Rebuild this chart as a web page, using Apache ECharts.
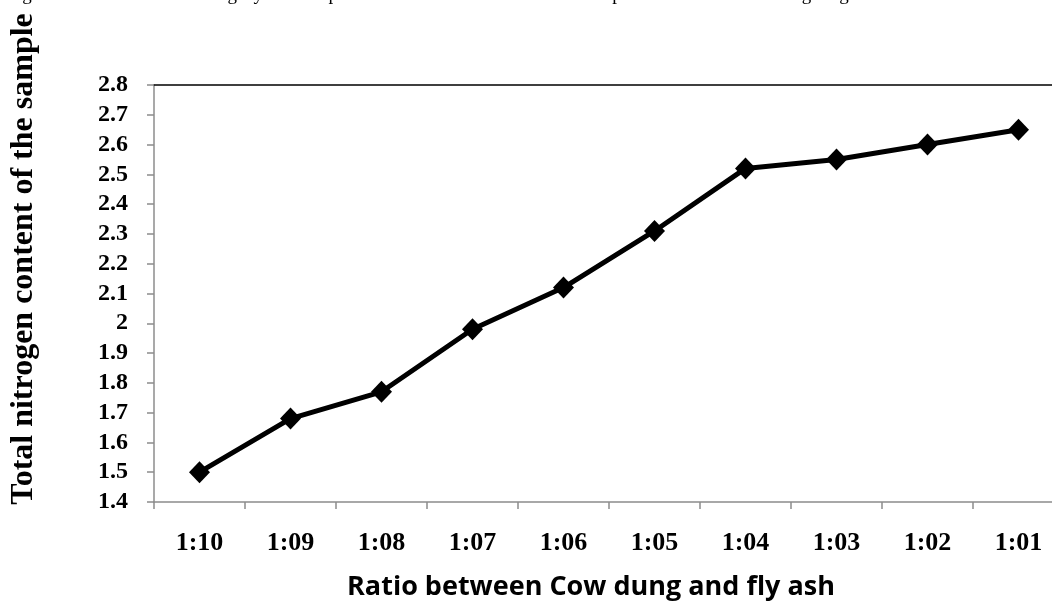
<!DOCTYPE html>
<html>
<head>
<meta charset="utf-8">
<script src="https://cdn.jsdelivr.net/npm/echarts@6/dist/echarts.min.js"></script>
<style>html,body{margin:0;padding:0;background:#fff;}#c{width:1052px;height:601px;}</style>
</head>
<body>
<div id="c"></div>
<script>
var categories = ['1:10','1:09','1:08','1:07','1:06','1:05','1:04','1:03','1:02','1:01'];
var nitrogen = [1.50, 1.68, 1.77, 1.98, 2.12, 2.31, 2.52, 2.55, 2.60, 2.65];
var yMin = 1.4, yMax = 2.8, yStep = 0.1;
var xTitle = 'Ratio between Cow dung and fly ash';
var yTitle = 'Total nitrogen content of the sample';
var topText = 'the total nitrogen content in the cow dung fly ash sample with the increase in the ratio as represented in the following diagram';

var chart = echarts.init(document.getElementById('c'), null, {renderer:'canvas'});
var serif = '"Liberation Serif","Times New Roman",serif';
chart.setOption({
  animation:false,
  backgroundColor:'#fff',
  grid:{left:154, width:910, top:85, height:417, containLabel:false, outerBoundsMode:'none'},
  xAxis:[{
    type:'category', data:categories, boundaryGap:true,
    axisLine:{lineStyle:{color:'#8c8c8c', width:1.5}},
    axisTick:{show:true, length:7, lineStyle:{color:'#8c8c8c', width:1.5}},
    axisLabel:{color:'#000', fontFamily:serif, fontWeight:'bold', fontSize:26, margin:28}
  },{
    type:'category', data:categories, position:'top',
    axisLine:{show:true, lineStyle:{color:'#000', width:1.5}},
    axisTick:{show:false}, axisLabel:{show:false}
  }],
  yAxis:{
    type:'value', min:yMin, max:yMax, interval:yStep,
    splitLine:{show:false},
    axisLine:{show:true, lineStyle:{color:'#8c8c8c', width:1.5}},
    axisTick:{show:true, length:7, lineStyle:{color:'#8c8c8c', width:1.5}},
    axisLabel:{color:'#000', fontFamily:serif, fontWeight:'bold', fontSize:24, margin:26,
      formatter:function(v){return String(Math.round(v*10)/10);}}
  },
  series:[{
    type:'line', data:nitrogen,
    lineStyle:{color:'#000', width:5},
    itemStyle:{color:'#000'},
    symbol:'diamond', symbolSize:[21,22], showSymbol:true
  }],
  graphic:[
    {type:'text', x:591, y:587, style:{text:xTitle, fill:'#000', font:'bold 27px "Open Sans", sans-serif', textAlign:'center', textVerticalAlign:'middle'}},
    {type:'text', x:24, y:259, rotation:Math.PI/2, style:{text:yTitle, fill:'#000', font:'bold 32px '+serif, textAlign:'center', textVerticalAlign:'middle'}},
    {type:'text', x:-80, y:5, style:{text:topText, fill:'#000', font:'19px '+serif, textAlign:'left', textVerticalAlign:'bottom'}}
  ]
});
</script>
</body>
</html>
